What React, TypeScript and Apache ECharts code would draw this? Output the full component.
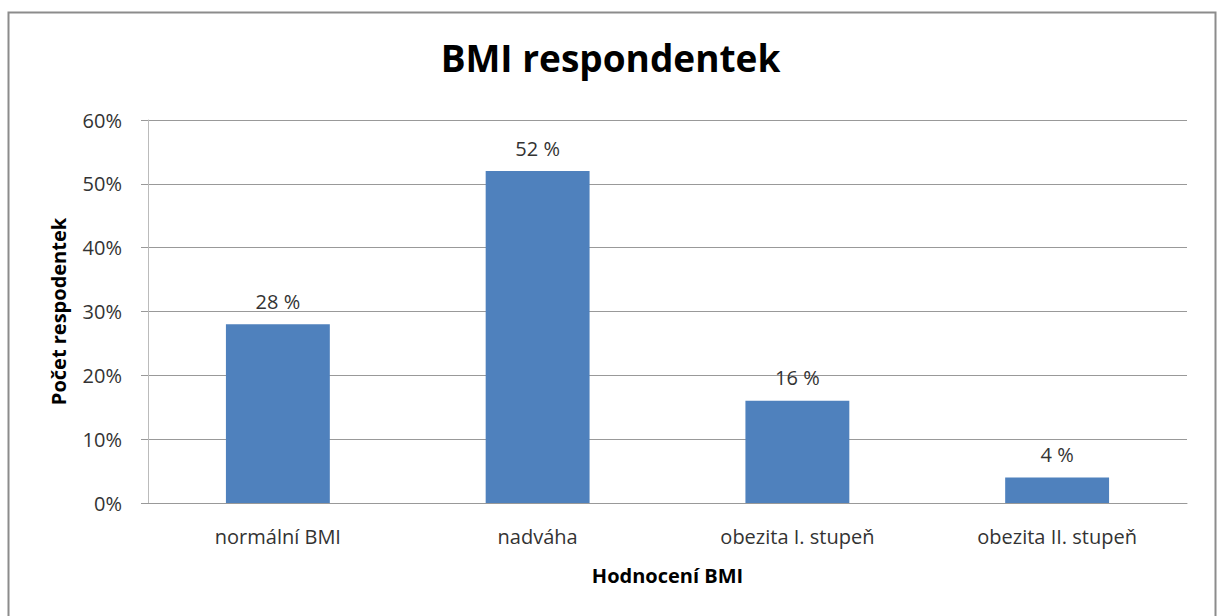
import React, { useEffect, useRef } from "react";
import * as echarts from "echarts";

const categories = ["normální BMI", "nadváha", "obezita I. stupeň", "obezita II. stupeň"];
const values = [28, 52, 16, 4];
const yTicks = [0, 10, 20, 30, 40, 50, 60];

const FONT = "'Open Sans', 'Noto Sans', sans-serif";

export default function App() {
  const ref = useRef<HTMLDivElement>(null);

  useEffect(() => {
    if (!ref.current) return;
    const chart = echarts.init(ref.current, null, { renderer: "svg" });
    chart.setOption({
      animation: false,
      backgroundColor: "#ffffff",
      title: {
        text: "BMI respondentek",
        left: "center",
        top: 34,
        textStyle: { fontFamily: FONT, fontWeight: "bold", fontSize: 37, color: "#000000" },
      },
      graphic: [
        {
          type: "rect",
          shape: { x: 8.5, y: 12.5, width: 1207, height: 620 },
          style: { fill: "none", stroke: "#8c8c8c", lineWidth: 2 },
          silent: true,
        },
      ],
      grid: { left: 148, right: 34, top: 120, bottom: 113, containLabel: false },
      xAxis: {
        type: "category",
        data: categories,
        name: "Hodnocení BMI",
        nameLocation: "middle",
        nameGap: 62,
        nameTextStyle: { fontFamily: FONT, fontWeight: "bold", fontSize: 20, color: "#000000" },
        axisLine: { show: true, lineStyle: { color: "#999999", width: 1 } },
        axisTick: { show: false },
        axisLabel: { fontFamily: FONT, fontSize: 20, color: "#333333", margin: 23 },
      },
      yAxis: {
        type: "value",
        min: yTicks[0],
        max: yTicks[yTicks.length - 1],
        interval: 10,
        name: "Počet respodentek",
        nameLocation: "middle",
        nameGap: 80,
        nameRotate: 90,
        nameTextStyle: { fontFamily: FONT, fontWeight: "bold", fontSize: 20, color: "#000000" },
        axisLine: { show: true, lineStyle: { color: "#bbbbbb", width: 1 } },
        axisTick: { show: true, length: 7, lineStyle: { color: "#999999" } },
        axisLabel: {
          fontFamily: FONT,
          fontSize: 20,
          color: "#333333",
          margin: 26,
          formatter: (v: number) => `${v}%`,
        },
        splitLine: { show: true, lineStyle: { color: "#999999", width: 1 } },
      },
      series: [
        {
          type: "bar",
          data: values,
          barWidth: "40%",
          itemStyle: { color: "#4f81bd" },
          label: {
            show: true,
            position: "top",
            distance: 13,
            fontFamily: FONT,
            fontSize: 20,
            color: "#333333",
            formatter: (p: any) => `${p.value} %`,
          },
        },
      ],
    });
    return () => chart.dispose();
  }, []);

  return (
    <div
      ref={ref}
      style={{ position: "fixed", left: 0, top: 0, width: 1221, height: 616 }}
    />
  );
}
